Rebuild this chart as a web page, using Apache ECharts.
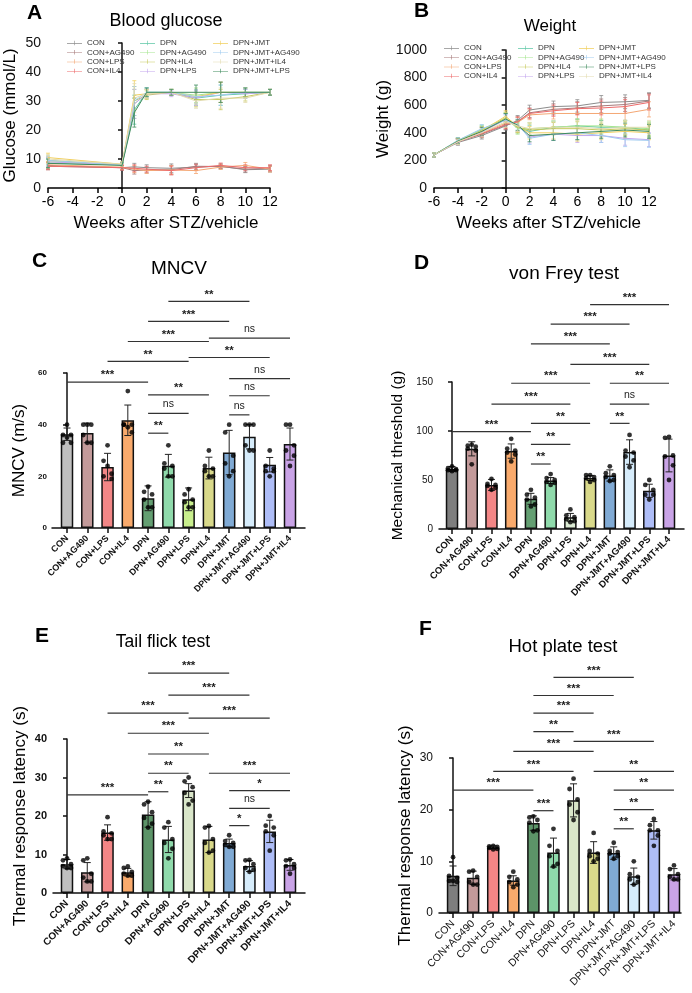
<!DOCTYPE html>
<html>
<head>
<meta charset="utf-8">
<script src="https://cdn.jsdelivr.net/npm/echarts@6/dist/echarts.min.js"></script>
<style>
html, body { margin: 0; padding: 0; background: #fff; }
#chart { width: 692px; height: 993px; }
</style>
</head>
<body>
<div id="chart"></div>
<script>
var FONT = "'Liberation Sans', Arial, sans-serif";

// groups on the bar panels
var cats = ['CON', 'CON+AG490', 'CON+LPS', 'CON+IL4', 'DPN', 'DPN+AG490', 'DPN+LPS', 'DPN+IL4',
    'DPN+JMT', 'DPN+JMT+AG490', 'DPN+JMT+LPS', 'DPN+JMT+IL4'];
var catIdx = [0, 1, 2, 3, 4, 5, 6, 7, 8, 9, 10, 11];

// A - blood glucose (mmol/L)
var weeksA = [-6, 0, 1, 2, 4, 6, 8, 10, 12];
var glu_CON = [7.5, 7.0, 7.3, 7.0, 6.8, 7.2, 7.5, 6.3, 6.5];
var glu_CON_AG490 = [7.8, 7.0, 6.0, 6.2, 6.3, 7.5, 7.4, 6.5, 6.8];
var glu_CON_LPS = [8.0, 7.2, 6.5, 6.0, 6.2, 6.0, 7.2, 7.8, 6.5];
var glu_CON_IL4 = [7.5, 7.0, 6.8, 6.5, 6.0, 7.0, 7.8, 7.0, 7.0];
var glu_DPN = [8.5, 8.0, 27, 33, 33, 31, 32, 32.5, 33];
var glu_DPN_AG490 = [9.0, 8.0, 29, 32.5, 33, 32, 33, 33, 33];
var glu_DPN_IL4 = [9.5, 8.0, 30, 32, 33, 30.5, 30.5, 31.5, 33];
var glu_DPN_LPS = [9.0, 8.0, 29, 32.5, 32.5, 31, 33, 32.5, 33];
var glu_DPN_JMT = [10.5, 8.2, 32, 32.5, 33, 31.5, 33, 33, 33];
var glu_DPN_JMT_AG490 = [9.5, 8.0, 30, 33, 33, 31.5, 32, 33, 33];
var glu_DPN_JMT_IL4 = [10, 8.2, 31, 32.5, 33, 30, 31, 31, 33];
var glu_DPN_JMT_LPS = [8.5, 7.8, 26, 33, 33, 33, 33, 33, 33];
var gluSdCon = [1.2, 0.8, 1.2, 1.0, 1.5, 1.0, 0.8, 1.0, 1.0];
var gluSdDpn = [1.5, 0.8, 5.0, 1.5, 1.0, 2.5, 3.5, 1.5, 1.0];

// B - weight (g)
var weeksB = [-6, -4, -2, 0, 1, 2, 4, 6, 8, 10, 12];
var wt_CON = [240, 330, 380, 450, 490, 565, 590, 595, 620, 625, 635];
var wt_CON_AG490 = [240, 335, 390, 455, 480, 545, 570, 580, 595, 605, 630];
var wt_CON_LPS = [238, 340, 400, 470, 475, 530, 540, 540, 540, 540, 570];
var wt_CON_IL4 = [240, 335, 395, 460, 480, 540, 560, 575, 580, 590, 620];
var wt_DPN = [238, 340, 420, 500, 440, 410, 440, 450, 440, 440, 420];
var wt_DPN_AG490 = [240, 345, 425, 505, 430, 430, 440, 450, 450, 440, 430];
var wt_DPN_IL4 = [240, 340, 410, 510, 440, 420, 430, 430, 420, 430, 420];
var wt_DPN_LPS = [238, 335, 405, 495, 450, 370, 390, 380, 380, 360, 350];
var wt_DPN_JMT = [240, 340, 415, 520, 445, 400, 400, 390, 400, 410, 400];
var wt_DPN_JMT_AG490 = [240, 345, 430, 490, 460, 360, 390, 400, 380, 350, 345];
var wt_DPN_JMT_LPS = [240, 340, 410, 500, 455, 380, 390, 400, 410, 420, 410];
var wt_DPN_JMT_IL4 = [240, 335, 400, 480, 450, 430, 440, 440, 430, 440, 440];
var wtSdCon = [15, 20, 25, 30, 35, 35, 40, 45, 50, 50, 55];
var wtSdDpn = [15, 20, 30, 40, 40, 45, 45, 50, 50, 50, 50];

// C - MNCV (m/s)
var mncvMean = [36.3, 36.8, 23.6, 41.7, 11.5, 24.1, 11.1, 23.2, 29.2, 35.3, 24.5, 32.5];
var mncvSd = [2.4, 3.8, 5.3, 5.9, 4.8, 4.4, 4.4, 4.2, 8.6, 4.7, 2.8, 6.2];
var mncvDots = [[40, 36, 36, 33, 33, 35], [40, 40, 40, 36, 33, 33], [32, 26, 21, 20, 19, 24],
    [53, 40, 40, 40, 37, 39], [16, 14, 13, 11, 8, 8], [32, 25, 24, 23, 20, 20],
    [15, 13, 11, 10, 8, 8], [30, 24, 23, 22, 20, 20], [40, 37, 28, 25, 22, 20],
    [40, 40, 40, 32, 30, 30], [30, 24, 23, 22, 22, 20], [40, 40, 32, 30, 28, 24]];
var mncvSig = [[5, 9, 87.7, '**'], [4, 8, 80, '***'], [3, 7, 72.2, '***'], [7, 11, 73.5, 'ns'],
    [2, 6, 64.5, '**'], [6, 10, 66, '**'], [0, 4, 56.5, '***'], [8, 11, 57.8, 'ns'],
    [4, 7, 51.5, '**'], [8, 10, 51.2, 'ns'], [4, 6, 44.4, 'ns'], [8, 9, 43.8, 'ns'], [4, 5, 36.7, '**']];

// D - von Frey, mechanical threshold (g)
var vfMean = [61.3, 81.8, 45, 79.5, 30.8, 49.5, 11.9, 52, 54.6, 78.5, 39, 75];
var vfSd = [2.5, 7.2, 5.6, 7.3, 5.6, 3.0, 4.0, 2.5, 5.7, 12.5, 6.7, 16.7];
var vfDots = [[64, 62, 61, 60, 60, 59], [86, 85, 84, 82, 80, 66], [51, 46, 45, 44, 42, 40],
    [92, 82, 80, 78, 76, 69], [40, 35, 32, 30, 25, 23], [56, 52, 50, 48, 47, 45],
    [20, 14, 12, 10, 8, 7], [55, 55, 53, 52, 50, 48], [64, 57, 55, 53, 50, 49],
    [96, 80, 78, 74, 70, 63], [50, 45, 40, 35, 35, 30], [94, 93, 75, 74, 65, 50]];
var vfSig = [[7, 11, 229, '***'], [5, 9, 209, '***'], [4, 8, 189, '***'], [6, 10, 168, '***'],
    [3, 7, 148.7, '***'], [8, 11, 148.7, '**'], [2, 6, 127.5, '***'], [8, 10, 127.5, 'ns'],
    [4, 7, 107.8, '**'], [8, 9, 107.8, '**'], [0, 4, 99.3, '***'], [4, 6, 86.4, '**'], [4, 5, 66.3, '**']];

// E - tail flick, thermal response latency (s)
var tfMean = [7.5, 5.4, 15.7, 5.4, 20.4, 13.9, 26.6, 13.9, 13.0, 7.0, 16.0, 7.3];
var tfSd = [1.2, 2.5, 2.0, 1.0, 3.3, 3.4, 1.8, 3.4, 1.0, 1.4, 2.9, 1.4];
var tfDots = [[9, 8.5, 7.5, 7, 6.5, 6.5], [9, 8.5, 5, 4, 3, 3], [19.7, 16, 15.5, 15, 14, 14],
    [6.9, 6.5, 5.5, 5, 4.5, 4.5], [23.7, 23, 21, 19.5, 18, 17], [18.4, 17, 14, 13, 11.5, 9],
    [30, 29, 27.5, 26, 24, 23], [17.4, 17, 14, 13, 11, 10.5], [15, 13.5, 13, 12.5, 12, 12],
    [8.6, 8.5, 7.5, 6.5, 6, 5.5], [20, 17.5, 17, 16, 15, 11], [8.7, 8.5, 7.5, 7, 6.5, 5]];
var tfSig = [[4, 8, 57.1, '***'], [5, 9, 51.4, '***'], [2, 6, 46.7, '***'], [6, 10, 45.4, '***'],
    [3, 7, 41.5, '***'], [4, 7, 36.1, '**'], [4, 6, 31.1, '**'], [0, 4, 25.5, '***'],
    [4, 5, 26.3, '**'], [7, 11, 31.1, '***'], [8, 11, 26.6, '*'], [8, 10, 22, 'ns'], [8, 9, 17.5, '*']];

// F - hot plate, thermal response latency (s)
var hpMean = [7.2, 6.8, 12.7, 6.3, 17.4, 11.7, 21.8, 11.7, 11.6, 7.1, 16.0, 7.5];
var hpSd = [1.9, 1.3, 0.3, 0.9, 1.4, 2.8, 3.2, 2.1, 1.2, 1.6, 1.7, 1.1];
var hpDots = [[10.8, 7.2, 6.8, 6.2, 6, 6.2], [8.2, 8, 7, 6, 5.5, 5.5], [13, 12.9, 12.8, 12.6, 12.4, 12.3],
    [8, 7, 6.5, 6, 5.5, 5], [18.7, 18.5, 18, 17.5, 16, 15.8], [16.3, 13, 12, 11, 9.5, 9],
    [26, 24, 22, 21, 19.5, 18], [15.5, 12, 11.5, 11, 10.5, 10], [13.6, 12, 11.8, 11.5, 11, 10.5],
    [10, 7.5, 7, 6.5, 6, 5.5], [18.2, 17, 16, 16, 15, 13], [9.2, 8.5, 7.5, 7, 6.5, 6.5]];
var hpSig = [[5, 9, 45.6, '***'], [4, 8, 42.1, '***'], [4, 7, 38.7, '***'], [4, 6, 35.1, '**'],
    [6, 10, 33.2, '***'], [3, 7, 31.3, '***'], [2, 6, 27.4, '***'], [7, 11, 27.4, '**'],
    [0, 4, 23.8, '***'], [8, 11, 23.8, '**'], [4, 5, 19.8, '***'], [8, 10, 20, '**'], [8, 9, 16.3, '**']];

// colours
var lineColors = {
    'CON': '#8c8c8c', 'CON+AG490': '#a77b7b', 'CON+LPS': '#f4a774', 'CON+IL4': '#ee6a6a',
    'DPN': '#5ec8a6', 'DPN+AG490': '#a6e68f', 'DPN+IL4': '#c6c95e', 'DPN+LPS': '#c3a6ee',
    'DPN+JMT': '#f1cf5e', 'DPN+JMT+AG490': '#9fcbf0', 'DPN+JMT+IL4': '#e3dcb0', 'DPN+JMT+LPS': '#3f8b5c'
};
var basePal = ['#bfbfbf', '#c39a9a', '#f38686', '#f9aa6c', '#649f72', '#8fdaab', '#c9ef8d', '#d9d98a',
    '#80aad4', '#d6ecfb', '#aebdf7', '#c9a3e6'];
var palC = basePal.slice();
var palD = basePal.slice(); palD[0] = '#7e7e7e'; palD[6] = '#dcebd4';
var palE = basePal.slice(); palE[4] = '#5c9468'; palE[6] = '#d9e6c9';
var palF = basePal.slice(); palF[0] = '#7e7e7e'; palF[4] = '#5c9468'; palF[6] = '#d9e6c9';
var jitter = [0, -4, 4, -4, 4, 0];
var legendIcon = 'path://M0,4.6h20v0.8h-20z M9.6,1.5h0.8v6h-0.8z';

var gluList = [['CON', glu_CON], ['CON+AG490', glu_CON_AG490], ['CON+LPS', glu_CON_LPS], ['CON+IL4', glu_CON_IL4],
    ['DPN', glu_DPN], ['DPN+AG490', glu_DPN_AG490], ['DPN+IL4', glu_DPN_IL4], ['DPN+LPS', glu_DPN_LPS],
    ['DPN+JMT', glu_DPN_JMT], ['DPN+JMT+AG490', glu_DPN_JMT_AG490], ['DPN+JMT+IL4', glu_DPN_JMT_IL4], ['DPN+JMT+LPS', glu_DPN_JMT_LPS]];
var wtList = [['CON', wt_CON], ['CON+AG490', wt_CON_AG490], ['CON+LPS', wt_CON_LPS], ['CON+IL4', wt_CON_IL4],
    ['DPN', wt_DPN], ['DPN+AG490', wt_DPN_AG490], ['DPN+IL4', wt_DPN_IL4], ['DPN+LPS', wt_DPN_LPS],
    ['DPN+JMT', wt_DPN_JMT], ['DPN+JMT+AG490', wt_DPN_JMT_AG490], ['DPN+JMT+LPS', wt_DPN_JMT_LPS], ['DPN+JMT+IL4', wt_DPN_JMT_IL4]];

function lineSeries(gi, list, weeks, sdCon, sdDpn) {
    var out = [];
    var err = [];
    list.forEach(function (item, s) {
        var c = lineColors[item[0]];
        var sdArr = item[0].indexOf('CON') === 0 ? sdCon : sdDpn;
        out.push({
            type: 'line', name: item[0], xAxisIndex: gi, yAxisIndex: gi, symbol: 'none',
            data: weeks.map(function (w, j) { return [w, item[1][j]]; }),
            lineStyle: { width: 1, color: c }, itemStyle: { color: c }, z: 2
        });
        weeks.forEach(function (w, j) { err.push([w, item[1][j], sdArr[j], s]); });
    });
    out.push({
        type: 'custom', name: 'err' + gi, xAxisIndex: gi, yAxisIndex: gi, data: err, clip: false, z: 1,
        renderItem: function (p, api) {
            var x = api.value(0), v = api.value(1), sd = api.value(2), s = api.value(3);
            var t = api.coord([x, v + sd]), b = api.coord([x, v - sd]);
            var st = { stroke: lineColors[list[s][0]], lineWidth: 0.8 };
            return { type: 'group', children: [
                { type: 'line', shape: { x1: t[0], y1: t[1], x2: b[0], y2: b[1] }, style: st },
                { type: 'line', shape: { x1: t[0] - 2, y1: t[1], x2: t[0] + 2, y2: t[1] }, style: st },
                { type: 'line', shape: { x1: b[0] - 2, y1: b[1], x2: b[0] + 2, y2: b[1] }, style: st }
            ] };
        }
    });
    return out;
}

function barSeries(gi, mean, sd, dots, sig, pal) {
    var out = [];
    out.push({
        type: 'bar', xAxisIndex: gi, yAxisIndex: gi, barWidth: 12.5, z: 2,
        data: mean.map(function (m, i) { return { value: [i, m], itemStyle: { color: pal[i] } }; }),
        itemStyle: { borderColor: '#111', borderWidth: 1.5 }
    });
    out.push({
        type: 'custom', xAxisIndex: gi, yAxisIndex: gi, z: 3, clip: false,
        data: mean.map(function (m, i) { return [i, m, sd[i]]; }),
        renderItem: function (p, api) {
            var i = api.value(0), m = api.value(1), s = api.value(2);
            var t = api.coord([i, m + s]), b = api.coord([i, m - s]);
            var st = { stroke: '#222', lineWidth: 1 };
            return { type: 'group', children: [
                { type: 'line', shape: { x1: t[0], y1: t[1], x2: b[0], y2: b[1] }, style: st },
                { type: 'line', shape: { x1: t[0] - 3.5, y1: t[1], x2: t[0] + 3.5, y2: t[1] }, style: st },
                { type: 'line', shape: { x1: b[0] - 3.5, y1: b[1], x2: b[0] + 3.5, y2: b[1] }, style: st }
            ] };
        }
    });
    var pts = [];
    dots.forEach(function (arr, i) {
        arr.forEach(function (v, k) { pts.push({ value: [i, v], symbolOffset: [jitter[k], 0] }); });
    });
    out.push({ type: 'scatter', xAxisIndex: gi, yAxisIndex: gi, data: pts, symbolSize: 4.8, itemStyle: { color: '#000' }, z: 4 });
    out.push({
        type: 'custom', xAxisIndex: gi, yAxisIndex: gi, z: 5, clip: false,
        data: sig.map(function (b) { return [b[0], b[1], b[2]]; }),
        renderItem: function (p, api) {
            var b = sig[p.dataIndex];
            var p1 = api.coord([api.value(0), api.value(2)]);
            var p2 = api.coord([api.value(1), api.value(2)]);
            var ns = b[3] === 'ns';
            return { type: 'group', children: [
                { type: 'line', shape: { x1: p1[0], y1: p1[1], x2: p2[0], y2: p2[1] }, style: { stroke: '#333', lineWidth: 1.2 } },
                { type: 'text', style: {
                    x: (p1[0] + p2[0]) / 2, y: p1[1] - (ns ? 3.5 : 1), text: b[3],
                    font: (ns ? 'normal 10.5px ' : 'bold 11.5px ') + FONT, fill: '#222',
                    textAlign: 'center', textVerticalAlign: 'bottom', align: 'center', verticalAlign: 'bottom'
                } }
            ] };
        }
    });
    return out;
}

function weekAxis(gi) {
    return {
        type: 'value', gridIndex: gi, min: -6, max: 12, interval: 2,
        name: 'Weeks after STZ/vehicle', nameLocation: 'middle', nameGap: 27,
        nameTextStyle: { fontSize: 17, color: '#000', fontFamily: FONT, padding: [0, 0, 0, 14] },
        axisLine: { lineStyle: { color: '#000', width: 1.5 } },
        axisTick: { length: 5, lineStyle: { color: '#000', width: 1.5 } },
        axisLabel: { fontSize: 14, color: '#000', fontFamily: FONT, margin: 7 },
        splitLine: { show: false }
    };
}

function catAxis(gi, min, max, fs, weight) {
    return {
        type: 'value', gridIndex: gi, min: min, max: max,
        axisLine: { lineStyle: { color: '#111', width: 1.5 } },
        axisTick: { customValues: catIdx, length: 5, lineStyle: { color: '#111', width: 1.5 } },
        axisLabel: {
            customValues: catIdx, rotate: 45, margin: 9,
            formatter: function (v) { return cats[Math.round(v)]; },
            fontSize: fs, fontWeight: weight, color: '#111', fontFamily: FONT
        },
        splitLine: { show: false }
    };
}

function valAxis(gi, max, interval, fs, weight, name, nameSize, nameGap, margin) {
    return {
        type: 'value', gridIndex: gi, min: 0, max: max, interval: interval,
        name: name, nameLocation: 'middle', nameGap: nameGap,
        nameTextStyle: { fontSize: nameSize, color: '#000', fontFamily: FONT },
        axisLine: { show: true, lineStyle: { color: '#111', width: 1.5 } },
        axisTick: { show: true, length: 4, lineStyle: { color: '#111', width: 1.5 } },
        axisLabel: { fontSize: fs, fontWeight: weight, color: '#111', fontFamily: FONT, margin: margin,
            formatter: function (v) { return String(v); } },
        splitLine: { show: false }
    };
}

function legendCol(left, top, names) {
    return {
        orient: 'vertical', left: left, top: top, padding: 0, itemGap: 1.3,
        itemWidth: 15, itemHeight: 8, data: names, selectedMode: false, icon: legendIcon,
        textStyle: { fontSize: 8, color: '#333', fontFamily: FONT }
    };
}

function ttl(text, left, top, size, bold, center) {
    var t = { text: text, left: left, top: top, padding: 0,
        textStyle: { fontSize: size, fontWeight: bold ? 'bold' : 'normal', color: '#000', fontFamily: FONT } };
    if (center) { t.textAlign = 'center'; }
    return t;
}

var series = [].concat(
    lineSeries(0, gluList, weeksA, gluSdCon, gluSdDpn),
    lineSeries(1, wtList, weeksB, wtSdCon, wtSdDpn),
    barSeries(2, mncvMean, mncvSd, mncvDots, mncvSig, palC),
    barSeries(3, vfMean, vfSd, vfDots, vfSig, palD),
    barSeries(4, tfMean, tfSd, tfDots, tfSig, palE),
    barSeries(5, hpMean, hpSd, hpDots, hpSig, palF)
);

var chart = echarts.init(document.getElementById('chart'));
var option = {
    animation: false,
    backgroundColor: '#fff',
    title: [
        ttl('A', 27, 3, 21, true), ttl('Blood glucose', 166, 12, 18, false, true),
        ttl('B', 414, 1, 21, true), ttl('Weight', 550, 18, 17, false, true),
        ttl('C', 32, 251, 21, true), ttl('MNCV', 179, 259, 19, false, true),
        ttl('D', 414, 253, 21, true), ttl('von Frey test', 564, 264, 19, false, true),
        ttl('E', 35, 626, 21, true), ttl('Tail flick test', 163, 633, 17.5, false, true),
        ttl('F', 419, 619, 21, true), ttl('Hot plate test', 563, 637, 18.5, false, true)
    ],
    legend: [
        legendCol(67, 39, ['CON', 'CON+AG490', 'CON+LPS', 'CON+IL4']),
        legendCol(140, 39, ['DPN', 'DPN+AG490', 'DPN+IL4', 'DPN+LPS']),
        legendCol(213, 39, ['DPN+JMT', 'DPN+JMT+AG490', 'DPN+JMT+IL4', 'DPN+JMT+LPS']),
        legendCol(444, 44, ['CON', 'CON+AG490', 'CON+LPS', 'CON+IL4']),
        legendCol(518, 44, ['DPN', 'DPN+AG490', 'DPN+IL4', 'DPN+LPS']),
        legendCol(579, 44, ['DPN+JMT', 'DPN+JMT+AG490', 'DPN+JMT+LPS', 'DPN+JMT+IL4'])
    ],
    grid: [
        { left: 48, top: 43, width: 222, height: 145 },
        { left: 434, top: 50, width: 215, height: 138 },
        { left: 52, top: 373, width: 253, height: 155 },
        { left: 439, top: 382, width: 245, height: 147 },
        { left: 53, top: 739, width: 252, height: 154 },
        { left: 439, top: 758, width: 242, height: 155 }
    ],
    xAxis: [
        weekAxis(0), weekAxis(1),
        catAxis(2, -0.74, 11.74, 9, 'bold'),
        catAxis(3, -0.66, 11.76, 9.5, 'bold'),
        catAxis(4, -0.69, 11.74, 10, 'bold'),
        catAxis(5, -0.70, 11.35, 10.5, 'normal')
    ],
    yAxis: [
        valAxis(0, 50, 10, 14, 'normal', 'Glucose (mmol/L)', 17, 29, 7),
        valAxis(1, 1000, 200, 14, 'normal', 'Weight (g)', 17, 41, 7),
        valAxis(2, 60, 20, 8, 'bold', 'MNCV (m/s)', 17, 24, 5),
        valAxis(3, 150, 50, 10, 'normal', 'Mechanical threshold (g)', 15.5, 33, 6),
        valAxis(4, 40, 10, 11, 'bold', 'Thermal response latency (s)', 17, 24, 6),
        valAxis(5, 30, 10, 12, 'normal', 'Thermal response latency (s)', 17, 25, 6)
    ],
    series: series
};
chart.setOption(option);
window.addEventListener('resize', function () {
    chart.resize();
});
</script>
</body>
</html>
